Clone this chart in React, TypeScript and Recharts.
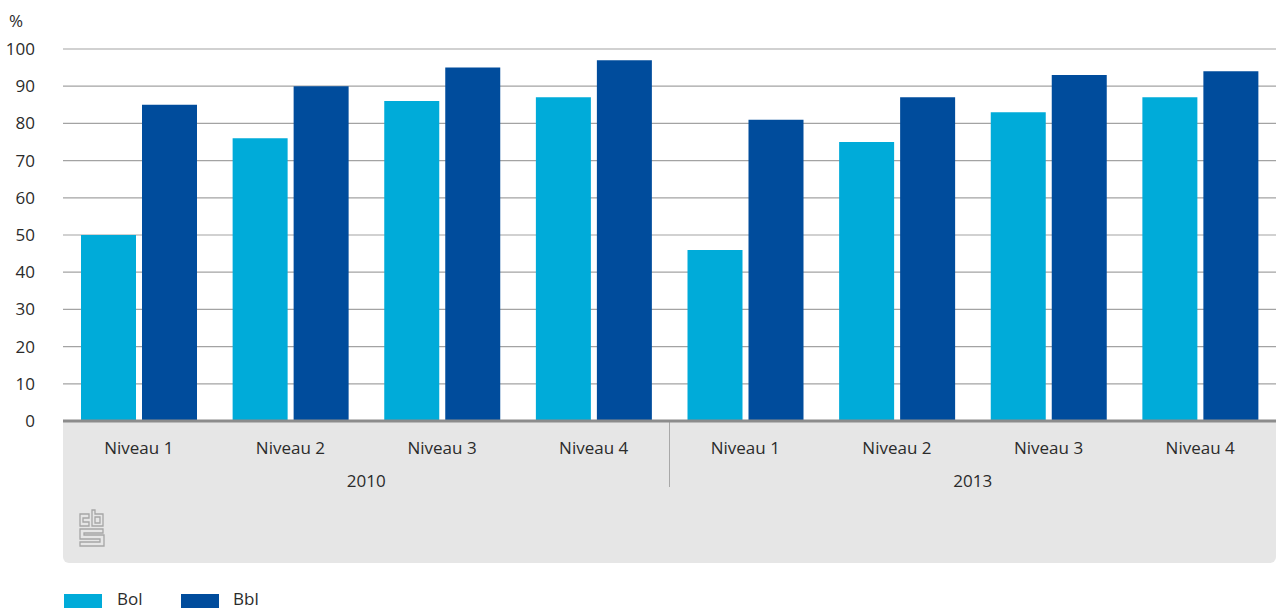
import { BarChart, Bar, XAxis, YAxis, CartesianGrid } from 'recharts';

// Bol / Bbl per niveau, 2010 and 2013 (%)
const years = ['2010', '2013'];
const niveaus = ['Niveau 1', 'Niveau 2', 'Niveau 3', 'Niveau 4'];
const bol2010 = [50, 76, 86, 87];
const bbl2010 = [85, 90, 95, 97];
const bol2013 = [46, 75, 83, 87];
const bbl2013 = [81, 87, 93, 94];
const yTicks = [0, 10, 20, 30, 40, 50, 60, 70, 80, 90, 100];

const BOL_COLOR = '#00abd9';
const BBL_COLOR = '#004c9c';
const TEXT = '#2b2b2b';
const FONT = '"Open Sans", "Noto Sans", sans-serif';

const chartData = [
  ...niveaus.map((n, i) => ({ year: years[0], niveau: n, bol: bol2010[i], bbl: bbl2010[i] })),
  ...niveaus.map((n, i) => ({ year: years[1], niveau: n, bol: bol2013[i], bbl: bbl2013[i] })),
];

function NiveauTick({ x, y, payload }: any) {
  return (
    <text x={x} y={y + 33} textAnchor="middle" fill={TEXT} fontSize={17} fontFamily={FONT}>
      {payload.value}
    </text>
  );
}

function YearTick({ x, y, payload }: any) {
  return (
    <text x={x} y={y + 26} textAnchor="middle" fill={TEXT} fontSize={17} fontFamily={FONT}>
      {payload.value}
    </text>
  );
}

function CbsLogo() {
  return (
    <svg width={28} height={40} viewBox="0 0 28 40" style={{ position: 'absolute', left: 78, top: 508 }}>
      <g fill="none" stroke="#a6a6a6" strokeWidth={1.3}>
        <path d="M2 6 H11 V10 H5 V14 H11 V18 H2 Z" />
        <path d="M14 2 H17 V6 H25 V18 H14 Z M17 9 H22 V15 H17 Z" />
        <path d="M25 21 H2 V31 H22 V34 H2 V38 H26 V27 H6 V25 H25 Z" />
      </g>
    </svg>
  );
}

export default function App() {
  return (
    <div style={{ position: 'absolute', left: 0, top: 0, width: 1276, height: 608, background: '#fff', fontFamily: FONT, overflow: 'hidden' }}>
      {/* grey axis panel */}
      <div
        style={{
          position: 'absolute',
          left: 63,
          top: 422,
          width: 1213,
          height: 141,
          background: '#e6e6e6',
          borderBottomLeftRadius: 6,
          borderBottomRightRadius: 6,
        }}
      />
      <div style={{ position: 'absolute', left: 669, top: 422, width: 1, height: 65, background: '#a8a8a8' }} />
      <CbsLogo />
      <div style={{ position: 'absolute', left: 9, top: 9, fontSize: 17, color: TEXT }}>%</div>

      <div style={{ position: 'absolute', left: 0, top: 0 }}>
        <BarChart
          width={1276}
          height={608}
          data={chartData}
          margin={{ top: 49, right: 0, left: 0, bottom: 107 }}
          barCategoryGap={18}
          barGap={6}
        >
          <CartesianGrid vertical={false} stroke="#a3a3a3" strokeWidth={1.2} />
          <YAxis
            width={63}
            domain={[0, 100]}
            ticks={yTicks}
            axisLine={false}
            tickLine={false}
            tickMargin={22}
            tick={{ fontSize: 17, fill: TEXT, fontFamily: FONT }}
          />
          <XAxis
            dataKey="niveau"
            height={40}
            tickSize={0}
            tickMargin={0}
            axisLine={{ stroke: '#8c8c8c', strokeWidth: 3 }}
            tickLine={false}
            tick={<NiveauTick />}
            interval={0}
          />
          <XAxis
            xAxisId="year"
            dataKey="year"
            allowDuplicatedCategory={false}
            height={40}
            tickSize={0}
            tickMargin={0}
            axisLine={false}
            tickLine={false}
            tick={<YearTick />}
            interval={0}
          />
          <Bar dataKey="bol" name="Bol" fill={BOL_COLOR} isAnimationActive={false} />
          <Bar dataKey="bbl" name="Bbl" fill={BBL_COLOR} isAnimationActive={false} />
        </BarChart>
      </div>

      {/* legend */}
      <span style={{ position: 'absolute', left: 64, top: 594, width: 38, height: 14, background: BOL_COLOR }} />
      <span style={{ position: 'absolute', left: 117, top: 590, fontSize: 17, lineHeight: '17px', color: TEXT }}>Bol</span>
      <span style={{ position: 'absolute', left: 181, top: 594, width: 38, height: 14, background: BBL_COLOR }} />
      <span style={{ position: 'absolute', left: 233, top: 590, fontSize: 17, lineHeight: '17px', color: TEXT }}>Bbl</span>
    </div>
  );
}
